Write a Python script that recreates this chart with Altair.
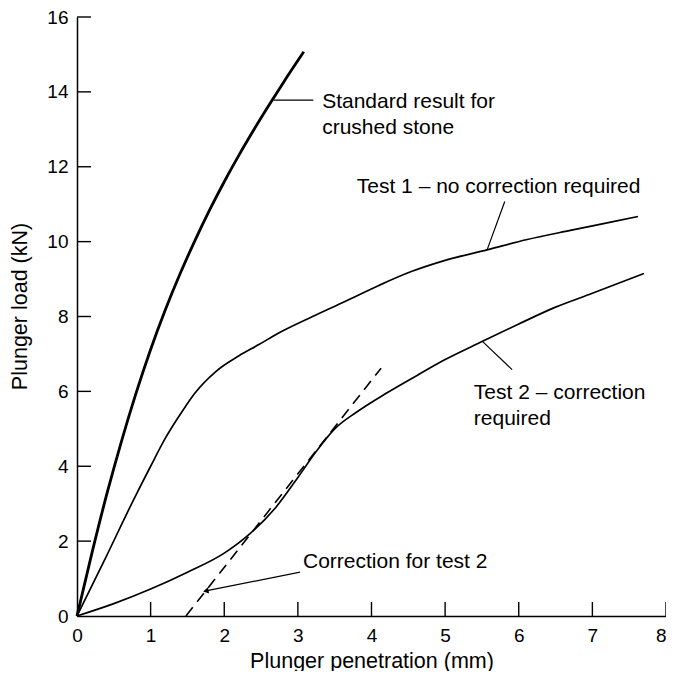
import altair as alt
import pandas as pd

# ---- data ----
std_x = [0, 0.2, 0.4, 0.6, 0.8, 1.0, 1.2, 1.4, 1.6, 1.8, 2.0, 2.2, 2.4, 2.6, 2.8, 3.08]
std_y = [0, 1.66, 3.22, 4.64, 5.94, 7.12, 8.18, 9.14, 10.02, 10.84, 11.6, 12.31, 12.98, 13.62, 14.24, 15.07]

t1_x = [0, 0.4, 0.76, 1.0, 1.2, 1.43, 1.6, 1.885, 2.2, 2.47, 2.74, 3.2, 3.64, 4.1, 4.54, 5.0, 5.57, 6.1, 6.7, 7.2, 7.62]
t1_y = [0, 1.6, 3.07, 4.0, 4.75, 5.47, 5.95, 6.53, 6.95, 7.25, 7.56, 8.0, 8.4, 8.83, 9.2, 9.5, 9.78, 10.05, 10.3, 10.5, 10.67]

t2_x = [0, 0.5, 1.0, 1.5, 2.0, 2.35, 2.7, 3.0, 3.25, 3.5, 3.8, 4.2, 4.63, 5.0, 5.5, 6.0, 6.5, 7.0, 7.7]
t2_y = [0, 0.33, 0.72, 1.17, 1.68, 2.2, 2.9, 3.7, 4.4, 5.0, 5.45, 5.95, 6.44, 6.85, 7.33, 7.8, 8.25, 8.62, 9.15]

corr_x = [1.48, 4.13]
corr_y = [0, 6.62]

lead_x = [2.67, 5.81, 5.51, 1.75]
lead_y = [13.78, 11.07, 7.33, 0.67]
lead_x2 = [3.21, 5.57, 5.91, 3.03]
lead_y2 = [13.78, 9.78, 6.58, 1.17]

arrow_x = [1.75]
arrow_y = [0.67]

note_text = ["Standard result for\ncrushed stone", "Test 1 \u2013 no correction required",
             "Test 2 \u2013 correction\nrequired", "Correction for test 2"]
note_x = [3.33, 3.80, 5.39, 3.07]
note_y = [13.56, 11.29, 5.80, 1.27]

x_ticks = [0, 1, 2, 3, 4, 5, 6, 7, 8]
y_ticks = [0, 2, 4, 6, 8, 10, 12, 14, 16]
x_inner = [1, 2, 3, 4, 5, 6, 7, 8]
y_inner = [2, 4, 6, 8, 10, 12, 14, 16]

FONT = "Liberation Sans"
W, H = 589, 599

curves = pd.concat([
    pd.DataFrame({"x": std_x, "y": std_y, "s": "std", "o": range(len(std_x))}),
    pd.DataFrame({"x": t1_x, "y": t1_y, "s": "t1", "o": range(len(t1_x))}),
    pd.DataFrame({"x": t2_x, "y": t2_y, "s": "t2", "o": range(len(t2_x))}),
])

xs = alt.Scale(domain=[0, 8], nice=False, zero=False)
ys = alt.Scale(domain=[0, 16], nice=False, zero=False)

xaxis = alt.Axis(values=x_ticks, title="Plunger penetration (mm)", ticks=False, tickSize=0,
                 labelPadding=10, titlePadding=5, labelFlush=False, labelOverlap=False,
                 grid=False, format="d",
                 labelAlign=alt.condition("datum.value == 8", alt.value("right"), alt.value("center")))
yaxis = alt.Axis(values=y_ticks, title="Plunger load (kN)", ticks=False, tickSize=0,
                 labelPadding=9, titlePadding=15, labelFlush=False, labelOverlap=False,
                 grid=False, format="d", titleY=289)

base_axes = alt.Chart(pd.DataFrame({"x": [0], "y": [0]})).mark_point(opacity=0).encode(
    x=alt.X("x:Q", scale=xs, axis=xaxis),
    y=alt.Y("y:Q", scale=ys, axis=yaxis),
)

std_line = alt.Chart(curves[curves.s == "std"]).mark_line(
    color="black", strokeWidth=2.8, interpolate="monotone").encode(
    x=alt.X("x:Q", scale=xs), y=alt.Y("y:Q", scale=ys), order="o:Q")

test_lines = alt.Chart(curves[curves.s != "std"]).mark_line(
    color="black", strokeWidth=1.7, interpolate="monotone").encode(
    x=alt.X("x:Q", scale=xs), y=alt.Y("y:Q", scale=ys), detail="s:N", order="o:Q")

corr_line = alt.Chart(pd.DataFrame({"x": corr_x, "y": corr_y})).mark_line(
    color="black", strokeWidth=1.6, strokeDash=[11, 7]).encode(
    x=alt.X("x:Q", scale=xs), y=alt.Y("y:Q", scale=ys))

leaders = alt.Chart(pd.DataFrame({"x": lead_x, "y": lead_y, "x2": lead_x2, "y2": lead_y2})).mark_rule(
    color="black", strokeWidth=1.2).encode(
    x=alt.X("x:Q", scale=xs), y=alt.Y("y:Q", scale=ys), x2="x2:Q", y2="y2:Q")

arrow = alt.Chart(pd.DataFrame({"x": arrow_x, "y": arrow_y})).mark_point(
    shape="triangle-left", angle=349, size=40, filled=True, color="black", opacity=1).encode(
    x=alt.X("x:Q", scale=xs), y=alt.Y("y:Q", scale=ys))

notes = alt.Chart(pd.DataFrame({"x": note_x, "y": note_y, "t": note_text})).mark_text(
    align="left", baseline="alphabetic", font=FONT, fontSize=21, color="black",
    lineBreak="\n", lineHeight=26).encode(
    x=alt.X("x:Q", scale=xs), y=alt.Y("y:Q", scale=ys), text="t:N")

xt = alt.Chart(pd.DataFrame({"x": x_inner})).mark_rule(color="black", strokeWidth=1.4).encode(
    x=alt.X("x:Q", scale=xs), y=alt.value(H), y2=alt.value(H - 14))

yt = alt.Chart(pd.DataFrame({"y": y_inner})).mark_rule(color="black", strokeWidth=1.4).encode(
    y=alt.Y("y:Q", scale=ys), x=alt.value(0), x2=alt.value(14))

chart = alt.layer(base_axes, xt, yt, corr_line, test_lines, std_line, leaders, arrow, notes).properties(
    width=W, height=H,
    autosize=alt.AutoSizeParams(type="none"),
    padding={"left": 69, "top": 9, "right": 0, "bottom": 55},
).configure_view(stroke=None).configure_axis(
    domainColor="black", domainWidth=1.5, labelColor="black", titleColor="black",
    labelFont=FONT, titleFont=FONT, labelFontSize=19, titleFontSize=21.5,
    titleFontWeight="normal",
)

chart.save("out.html", embed_options={"renderer": "svg", "actions": False})
